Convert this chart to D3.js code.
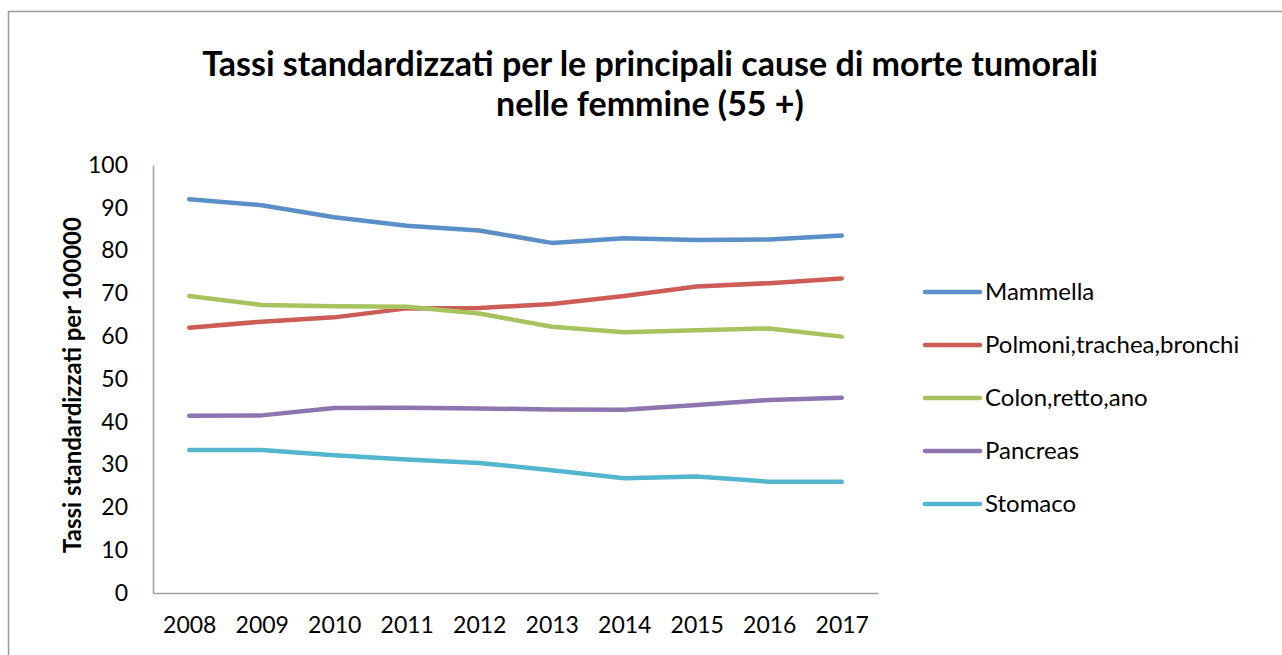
<!DOCTYPE html>
<html>
<head>
<meta charset="utf-8">
<script src="https://cdn.jsdelivr.net/npm/d3@7"></script>
<style>
  body { margin: 0; background: #fff; }
  text { font-family: Lato, "Open Sans", sans-serif; fill: #000; }
</style>
</head>
<body>
<script>
var width = 1282;
var height = 655;
var margin = {top: 165, right: 404, bottom: 62, left: 153};
var w = width - margin.left - margin.right;
var h = height - margin.top - margin.bottom;

// data
var years = ["2008", "2009", "2010", "2011", "2012", "2013", "2014", "2015", "2016", "2017"];
var seriesNames = ["Mammella", "Polmoni,trachea,bronchi", "Colon,retto,ano", "Pancreas", "Stomaco"];
var mammella = [92.0, 90.6, 87.8, 85.8, 84.7, 81.8, 82.9, 82.5, 82.6, 83.5];
var polmoni  = [62.0, 63.4, 64.4, 66.5, 66.6, 67.5, 69.4, 71.6, 72.4, 73.5];
var colon    = [69.4, 67.3, 67.0, 66.9, 65.3, 62.2, 60.9, 61.4, 61.8, 59.9];
var pancreas = [41.4, 41.5, 43.2, 43.3, 43.1, 42.9, 42.8, 43.9, 45.1, 45.6];
var stomaco  = [33.4, 33.4, 32.2, 31.2, 30.4, 28.7, 26.8, 27.2, 26.0, 26.0];
var yTicks = [0, 10, 20, 30, 40, 50, 60, 70, 80, 90, 100];

var colors = ["#5a8fc7", "#cd5c56", "#a6c35f", "#8f75b0", "#52b6ce"];
var series = [mammella, polmoni, colon, pancreas, stomaco].map(function(v, i) {
  return {name: seriesNames[i], values: v, color: colors[i]};
});

var svg = d3.select("body").append("svg")
    .attr("width", width)
    .attr("height", height);

// outer frame
svg.append("rect")
    .attr("x", 8.5)
    .attr("y", 11.5)
    .attr("width", 1300)
    .attr("height", 700)
    .style("fill", "none")
    .style("stroke", "#999")
    .style("stroke-width", 1.5);

// title
var title = svg.append("text")
    .attr("x", 650)
    .attr("y", 76)
    .style("text-anchor", "middle")
    .style("font-weight", "bold")
    .style("font-size", "34px");
title.append("tspan").attr("x", 650).text("Tassi standardizzati per le principali cause di morte tumorali");
title.append("tspan").attr("x", 650).attr("dy", 40).text("nelle femmine (55 +)");

var chart = svg.append("g")
    .attr("transform", "translate(" + margin.left + "," + margin.top + ")");

var x = d3.scalePoint()
    .domain(years)
    .range([0, w])
    .padding(0.5);

var y = d3.scaleLinear()
    .domain([0, 100])
    .range([h, 0]);

var xAxis = chart.append("g")
    .attr("transform", "translate(0," + h + ")")
    .call(d3.axisBottom(x).tickSize(0).tickPadding(24));

var yAxis = chart.append("g")
    .call(d3.axisLeft(y).tickValues(yTicks).tickSize(0).tickPadding(25));

[xAxis, yAxis].forEach(function(a) {
  a.select(".domain").style("stroke", "#a0a0a0").style("stroke-width", 1.5);
  a.selectAll("text")
    .style("font-family", "Lato, 'Open Sans', sans-serif")
    .style("font-size", "23px")
    .style("fill", "#000");
});

// y axis title
svg.append("text")
    .attr("transform", "translate(81,385) rotate(-90)")
    .style("text-anchor", "middle")
    .style("font-weight", "bold")
    .style("font-size", "24px")
    .text("Tassi standardizzati per 100000");

var line = d3.line()
    .x(function(d, i) { return x(years[i]); })
    .y(function(d) { return y(d); });

chart.selectAll(".series")
    .data(series)
  .enter().append("path")
    .attr("class", "series")
    .attr("d", function(d) { return line(d.values); })
    .style("fill", "none")
    .style("stroke", function(d) { return d.color; })
    .style("stroke-width", 4.5)
    .style("stroke-linecap", "round")
    .style("stroke-linejoin", "round");

// legend
var legend = svg.selectAll(".legend")
    .data(series)
  .enter().append("g")
    .attr("class", "legend")
    .attr("transform", function(d, i) { return "translate(925," + (292 + i * 53) + ")"; });

legend.append("line")
    .attr("x1", 0)
    .attr("x2", 55)
    .style("stroke", function(d) { return d.color; })
    .style("stroke-width", 4.5)
    .style("stroke-linecap", "round");

legend.append("text")
    .attr("x", 60)
    .attr("dy", "0.35em")
    .style("font-size", "24px")
    .text(function(d) { return d.name; });
</script>
</body>
</html>
